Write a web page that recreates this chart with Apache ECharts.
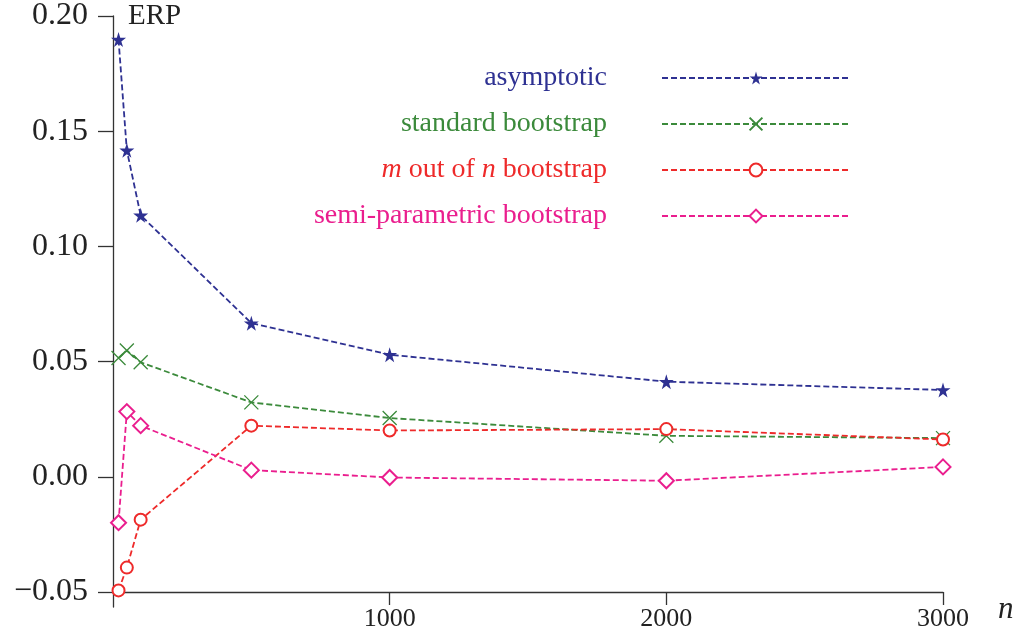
<!DOCTYPE html>
<html>
<head>
<meta charset="utf-8">
<title>ERP</title>
<script src="https://cdn.jsdelivr.net/npm/echarts@6/dist/echarts.min.js"></script>
<style>
  html, body { margin: 0; padding: 0; background: #fff; }
  #chart { width: 1024px; height: 632px; }
</style>
</head>
<body>
<div id="chart"></div>
<script>
var sampleSizes = [20, 50, 100, 500, 1000, 2000, 3000];
var asymptotic = [0.1898, 0.1417, 0.1135, 0.0667, 0.0530, 0.0413, 0.0377];
var standardBoot = [0.0516, 0.0548, 0.0497, 0.0323, 0.0255, 0.0178, 0.0168];
var mOutOfNBoot = [-0.0493, -0.0394, -0.0186, 0.0222, 0.0201, 0.0207, 0.0162];
var semiParamBoot = [-0.0199, 0.0283, 0.0222, 0.0029, -0.0003, -0.0017, 0.0043];
var yTicks = [-0.05, 0, 0.05, 0.10, 0.15, 0.20];
var xTicks = [1000, 2000, 3000];

var serif = "'Liberation Serif', 'DejaVu Serif', serif";
var blue = '#2e3192', green = '#3b8a3b', red = '#ee2a2a', magenta = '#ea1e8e';

function pairs(vals) {
    var out = [];
    for (var i = 0; i < sampleSizes.length; i++) {
        out.push([sampleSizes[i], vals[i]]);
    }
    return out;
}

var starPath = 'path://M50,0L61,35L98,35L68,57L79,91L50,70L21,91L32,57L2,35L39,35Z';
var crossPath = 'path://M0,0L10,10M10,0L0,10';

function lineSeries(name, vals, color, symbol, size, border) {
    return {
        name: name,
        type: 'line',
        data: pairs(vals),
        symbol: symbol,
        symbolSize: size,
        showAllSymbol: true,
        animation: false,
        lineStyle: { color: color, width: 1.8, type: [6, 3] },
        itemStyle: { color: color, borderColor: color, borderWidth: border }
    };
}

var myChart = echarts.init(document.getElementById('chart'));

var option = {
    backgroundColor: '#fff',
    animation: false,
    grid: { left: 113, right: 81, top: 15, bottom: 25 },
    legend: {
        orient: 'vertical',
        align: 'right',
        right: 168,
        top: 59,
        itemWidth: 188,
        itemHeight: 16,
        itemGap: 18,
        selectedMode: false,
        textStyle: {
            fontFamily: serif,
            fontSize: 28,
            padding: [0, 50, 0, 0],
            rich: {
                i: { fontFamily: serif, fontSize: 28, fontStyle: 'italic', color: red }
            }
        },
        formatter: function (name) {
            if (name === 'm out of n bootstrap') {
                return '{i|m} out of {i|n} bootstrap';
            }
            return name;
        },
        data: [
            { name: 'asymptotic', textStyle: { color: blue } },
            { name: 'standard bootstrap', textStyle: { color: green } },
            { name: 'm out of n bootstrap', textStyle: { color: red } },
            { name: 'semi-parametric bootstrap', textStyle: { color: magenta } }
        ]
    },
    xAxis: {
        type: 'value',
        min: 0,
        max: 3000,
        offset: -15,
        name: 'n',
        nameLocation: 'end',
        nameGap: 55,
        nameTextStyle: {
            fontFamily: serif, fontSize: 31, fontStyle: 'italic', color: '#222',
            verticalAlign: 'top', padding: [2, 0, 0, 0]
        },
        splitLine: { show: false },
        axisLine: { onZero: false, lineStyle: { color: '#333', width: 1.3 } },
        axisTick: { customValues: xTicks, length: 13, lineStyle: { color: '#333', width: 1.3 } },
        axisLabel: {
            customValues: xTicks,
            margin: 14,
            fontFamily: serif,
            fontSize: 26,
            color: '#222',
            formatter: function (v) { return String(v); }
        }
    },
    yAxis: {
        type: 'value',
        min: -0.0565,
        max: 0.20,
        name: 'ERP',
        nameLocation: 'end',
        nameGap: 0,
        nameTextStyle: {
            fontFamily: serif, fontSize: 29, color: '#222',
            align: 'left', verticalAlign: 'middle', padding: [4, 0, 0, 15]
        },
        splitLine: { show: false },
        axisLine: { show: true, onZero: false, lineStyle: { color: '#333', width: 1.3 } },
        axisTick: { show: true, customValues: yTicks, length: 15, lineStyle: { color: '#333', width: 1.3 } },
        axisLabel: {
            customValues: yTicks,
            margin: 25,
            fontFamily: serif,
            fontSize: 32,
            color: '#222',
            formatter: function (v) {
                var s = Math.abs(v).toFixed(2);
                return v < -1e-9 ? '\u2212' + s : s;
            }
        }
    },
    series: [
        lineSeries('asymptotic', asymptotic, blue, starPath, 15, 0),
        lineSeries('standard bootstrap', standardBoot, green, crossPath, 14, 1.3),
        lineSeries('m out of n bootstrap', mOutOfNBoot, red, 'emptyCircle', 12, 1.3),
        lineSeries('semi-parametric bootstrap', semiParamBoot, magenta, 'emptyDiamond', 15, 1.3)
    ]
};

myChart.setOption(option);
</script>
</body>
</html>
